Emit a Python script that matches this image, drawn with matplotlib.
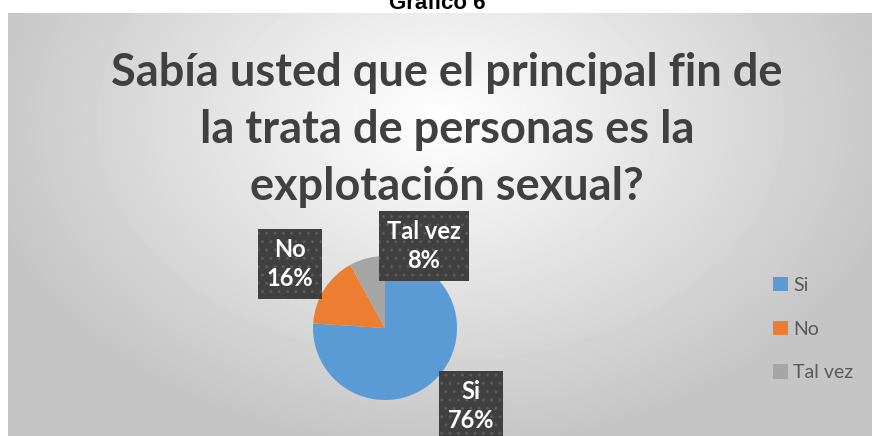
import numpy as np
import matplotlib
matplotlib.use("Agg")
import matplotlib.pyplot as plt

categories = ["Si", "No", "Tal vez"]
values = [76, 16, 8]
labels_pct = ["76%", "16%", "8%"]
colors = ["#5B9BD5", "#ED7D31", "#A5A5A5"]
title = "Sabía usted que el principal fin de\nla trata de personas es la\nexplotación sexual?"
header = "Gráfico 6"

W, H = 872, 436
fig = plt.figure(figsize=(W / 100, H / 100), dpi=100)
fig.patch.set_facecolor("white")

# background chart area with radial gradient
bg = fig.add_axes([8 / W, 0, 1 - 8 / W, (H - 13) / H])
yy, xx = np.mgrid[13:H, 8:W]
r = np.sqrt(((xx - 440) / 470.0) ** 2 + ((yy - 120) / 330.0) ** 2)
val = 1 - 0.23 * np.clip(r, 0, 1)
bg.imshow(val, cmap="gray", vmin=0, vmax=1, aspect="auto", interpolation="bilinear")
bg.set_axis_off()

# header (partially clipped, as in the reference)
fig.text(437 / W, (H - 9) / H, header, ha="center", va="baseline",
         fontsize=16, fontweight="bold", family="Liberation Sans", color="black")

# title
fig.text(447 / W, (H - 130) / H, title, ha="center", va="center",
         fontsize=32.5, fontweight="bold", family="Lato", color="#404040",
         linespacing=1.43)

# pie
cx, cy, R = 385, 328, 72
ax = fig.add_axes([(cx - R) / W, (H - cy - R) / H, 2 * R / W, 2 * R / H])
wedges, _ = ax.pie(values, colors=colors, startangle=90, counterclock=False,
                   radius=1, wedgeprops=dict(linewidth=0))
ax.set_xlim(-1, 1)
ax.set_ylim(-1, 1)
ax.set_aspect("equal")

label_pos = [((471 - cx) / R, (cy - 406) / R),
             ((290 - cx) / R, (cy - 264) / R),
             ((424 - cx) / R, (cy - 246) / R)]
for cat, pct, (lx, ly) in zip(categories, labels_pct, label_pos):
    ax.text(lx, ly, f"{cat}\n{pct}", ha="center", va="center", color="white",
            fontsize=17, fontweight="bold", family="Lato", linespacing=1.35,
            clip_on=False,
            bbox=dict(boxstyle="square,pad=0.35", fc="#404040", ec="#5a5a5a",
                      lw=0, hatch=".."))

# legend
leg = fig.legend(wedges, categories, loc="center left",
                 bbox_to_anchor=(773 / W, (H - 329) / H),
                 frameon=False, labelspacing=1.38, borderpad=0, borderaxespad=0,
                 handlelength=0.75, handleheight=0.75, handletextpad=0.3,
                 prop=dict(family="Lato", size=14))
for t in leg.get_texts():
    t.set_color("#595959")

fig.savefig("out.png", dpi=100)
